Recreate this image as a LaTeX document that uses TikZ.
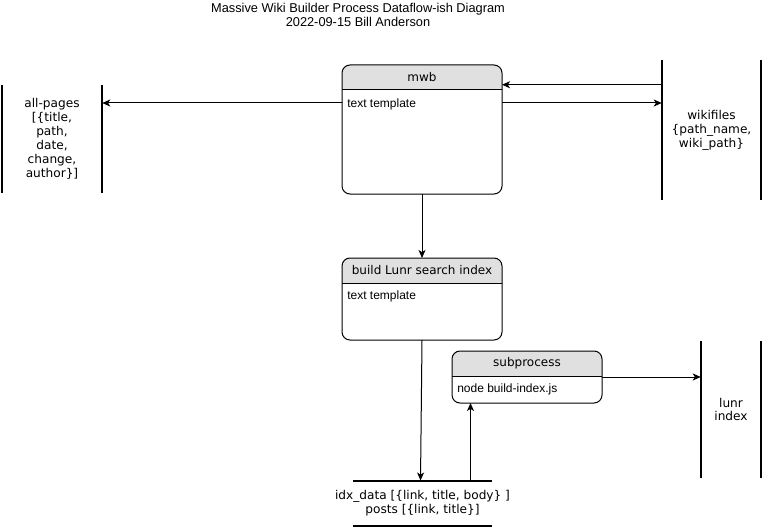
\documentclass[tikz,border=0pt]{standalone}
\usepackage{fontspec}
\setmainfont{Liberation Sans}
\newfontfamily\storefont{DejaVu Sans}
\usetikzlibrary{arrows.meta,calc}
\definecolor{hdr}{HTML}{E0E0E0}
\tikzset{
  procbox/.style={line width=0.75pt, rounded corners=6pt, inner sep=0pt, anchor=north west},
  hdrfill/.style={fill=hdr},
  storeline/.style={line width=1.5pt},
  storebox/.style={inner sep=0pt, align=center, font=\storefont\fontsize{9.1pt}{10.4pt}\selectfont},
  arr/.style={line width=0.75pt, -{Stealth[length=6pt,width=5.25pt,inset=1.6pt]}},
  boxtext/.style={font=\fontsize{9pt}{10.5pt}\selectfont, inner sep=0pt},
  hdrtext/.style={font=\storefont\fontsize{9pt}{10.5pt}\selectfont, inner sep=0pt},
}
\newcommand{\procheader}[3]{% name, header height (px), label
  \begin{scope}
    \clip[rounded corners=6pt] (#1.north west) rectangle (#1.south east);
    \fill[hdrfill] (#1.north west) rectangle ($(#1.north east)+(0,#2)$);
  \end{scope}
  \draw[line width=0.75pt, rounded corners=6pt] (#1.north west) rectangle (#1.south east);
  \draw[line width=0.75pt] ($(#1.north west)+(0,#2)$) -- ($(#1.north east)+(0,#2)$);
  \node[hdrtext] (#1-hdr) at ($(#1.north)+(0,#2/2)$) {#3};
}
\begin{document}
\begin{tikzpicture}[x=0.75pt,y=-0.75pt]
\useasboundingbox (0,0) rectangle (762,527);

% title
\node[boxtext, align=center, font=\fontsize{9.6pt}{10.5pt}\selectfont] (title) at (358,15)
  {Massive Wiki Builder Process Dataflow-ish Diagram\\2022-09-15 Bill Anderson};

% process boxes
\node[procbox, minimum width=159*0.75pt, minimum height=128*0.75pt] (mwb) at (342,65) {};
\procheader{mwb}{25}{mwb}
\node[boxtext, anchor=west] (mwb-body) at (347,104) {text template};

\node[procbox, minimum width=159*0.75pt, minimum height=81*0.75pt] (build) at (342,258) {};
\procheader{build}{25}{build Lunr search index}
\node[boxtext, anchor=west] (build-body) at (347,296) {text template};

\node[procbox, minimum width=149*0.75pt, minimum height=51*0.75pt] (sub) at (452,351) {};
\procheader{sub}{25}{subprocess}
\node[boxtext, anchor=west] (sub-body) at (457,389) {node build-index.js};

% data stores (vertical)
\node[storebox, minimum width=100*0.75pt, minimum height=108*0.75pt] (allpages) at (52,139)
  {all-pages\\\relax[\{title,\\path,\\date,\\change,\\author\}]};
\draw[storeline] (allpages.north west) -- (allpages.south west);
\draw[storeline] (allpages.north east) -- (allpages.south east);

\node[storebox, minimum width=99*0.75pt, minimum height=140*0.75pt] (wiki) at (711.5,130)
  {wikifiles\\\{path\_name,\\wiki\_path\}};
\draw[storeline] (wiki.north west) -- (wiki.south west);
\draw[storeline] (wiki.north east) -- (wiki.south east);

\node[storebox, minimum width=60*0.75pt, minimum height=136*0.75pt] (lunr) at (731,409.5)
  {lunr\\index};
\draw[storeline] (lunr.north west) -- (lunr.south west);
\draw[storeline] (lunr.north east) -- (lunr.south east);

% data store (horizontal)
\node[storebox] (idx) at (422.5,503)
  {idx\_data [\{link, title, body\} ]\\posts [\{link, title\}]};
\coordinate (idxtop) at ($(idx.center)+(0,-22.5)$);
\draw[storeline] ($(idx.center)+(-69.5,-22.5)$) -- ($(idx.center)+(69.5,-22.5)$);
\draw[storeline] ($(idx.center)+(-69.5,22.5)$) -- ($(idx.center)+(69.5,22.5)$);

% connectors
\draw[arr] ($(mwb.north west)+(0,38)$) coordinate (c1) -- (c1 -| allpages.east);
\draw[arr] ($(wiki.north west)+(0,25)$) coordinate (c2) -- (c2 -| mwb.east);
\draw[arr] ($(mwb.north east)+(0,38)$) coordinate (c3) -- (c3 -| wiki.west);
\draw[arr] (mwb.south) -- (build.north);
\draw[arr] (build.south) -- ($(idxtop)+(-2,0)$);
\draw[arr] ($(idxtop)+(48,0)$) coordinate (c4) -- (c4 |- sub.south);
\draw[arr] (sub.east) -- (sub.east -| lunr.west);
\end{tikzpicture}
\end{document}
